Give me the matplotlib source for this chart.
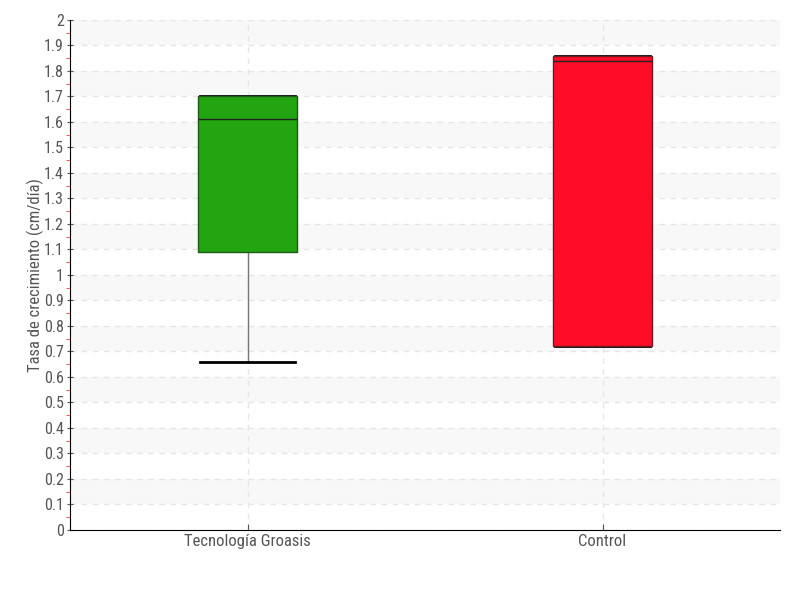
import matplotlib
matplotlib.use("Agg")
import matplotlib.pyplot as plt
import numpy as np

categories = ["Tecnología Groasis", "Control"]
whislo = [0.66, 0.72]
q1 = [1.09, 0.72]
med = [1.61, 1.84]
q3 = [1.70, 1.86]
whishi = [1.70, 1.86]
colors = ["#22a511", "#ff0d27"]
edge_colors = ["#1e5a16", "#6b1a22"]

plt.rcParams['font.family'] = ['Roboto Condensed', 'Liberation Sans Narrow', 'DejaVu Sans']
plt.rcParams['font.stretch'] = 'condensed'

fig = plt.figure(figsize=(8, 6), dpi=100)
ax = fig.add_axes([0.0875, 0.1167, 0.8875, 0.85])

# alternating bands
for lo in np.arange(0.1, 2.0, 0.2):
    ax.axhspan(lo, lo + 0.1, color="#f8f8f8", zorder=0, lw=0)

stats = []
for i, name in enumerate(categories):
    stats.append(dict(label=name, whislo=whislo[i], q1=q1[i], med=med[i],
                      q3=q3[i], whishi=whishi[i], fliers=[]))

bp = ax.bxp(stats, positions=[0, 1], widths=0.28, capwidths=0.27, patch_artist=True,
            showfliers=False, manage_ticks=False,
            medianprops=dict(color="#222222", lw=1),
            whiskerprops=dict(color="#777777", lw=1),
            capprops=dict(color="black", lw=2),
            boxprops=dict(lw=1))
for patch, c, ec in zip(bp['boxes'], colors, edge_colors):
    patch.set_facecolor(c)
    patch.set_edgecolor(ec)
    patch.set_zorder(3)
for m in bp['medians']:
    m.set_zorder(4)

ax.set_xlim(-0.5, 1.5)
ax.set_ylim(0, 2)
ax.set_xticks([0, 1])
ax.set_xticklabels(categories)
yt = np.round(np.arange(0, 2.01, 0.1), 1)
ax.set_yticks(yt)
ax.set_yticklabels([f"{v:g}" for v in yt])
ax.set_yticks(np.round(np.arange(0.05, 2.0, 0.1), 2), minor=True)

ax.grid(True, axis="both", which="major", linestyle=(0, (4, 4)), color="#e6e6e6", lw=1, zorder=1)
ax.set_axisbelow(True)

for s in ["top", "right"]:
    ax.spines[s].set_visible(False)
ax.spines["left"].set_color("black")
ax.spines["bottom"].set_color("black")

ax.tick_params(axis="y", which="major", direction="inout", length=5, color="#555555", labelsize=11.5, labelcolor="#555555", pad=2)
ax.tick_params(axis="y", which="minor", direction="out", length=3, color="#ff3333")
ax.tick_params(axis="x", which="major", direction="in", length=4, color="#555555", labelsize=12, labelcolor="#555555", pad=3)

ax.set_ylabel("Tasa de crecimiento (cm/día)", fontsize=12, color="#555555")
ax.yaxis.set_label_coords(-0.037, 0.5)

fig.savefig("out.png", dpi=100)
